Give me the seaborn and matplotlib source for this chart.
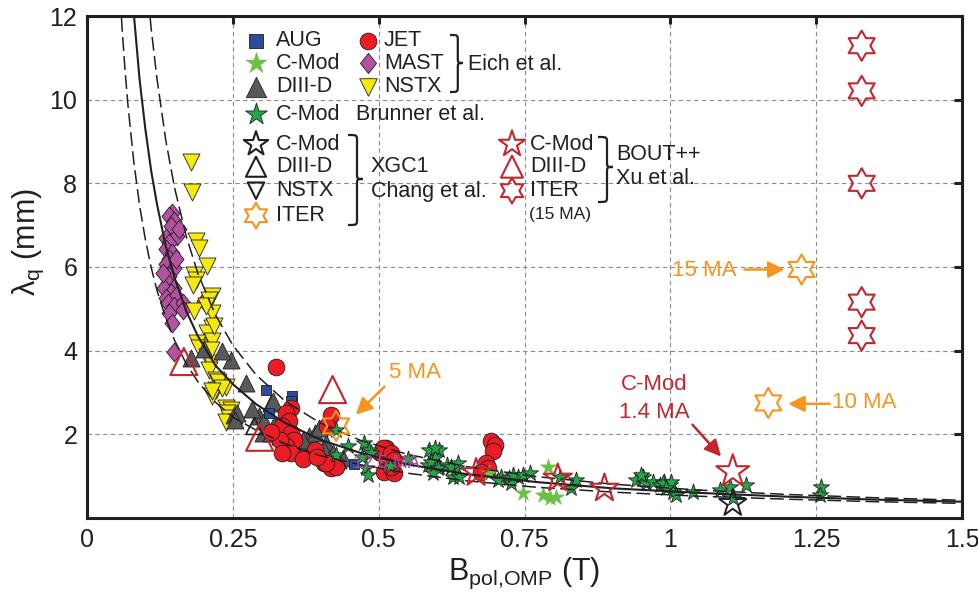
import numpy as np
import pandas as pd
import seaborn as sns
import matplotlib.pyplot as plt
from matplotlib.path import Path
from matplotlib.patches import PathPatch

# ---- scaling curves (B_pol in T, lambda_q in mm)
solid_B = [0.075, 0.08, 0.09, 0.10, 0.11, 0.12, 0.135, 0.15, 0.17, 0.19, 0.22, 0.25,
           0.29, 0.34, 0.40, 0.47, 0.55, 0.65, 0.77, 0.90, 1.05, 1.20, 1.35, 1.50]
solid_L = [13.1, 12.1, 10.5, 9.3, 8.3, 7.5, 6.5, 5.75, 4.95, 4.35, 3.65, 3.2,
           2.72, 2.27, 1.87, 1.55, 1.28, 1.05, 0.86, 0.71, 0.60, 0.51, 0.44, 0.39]
upper_B = [0.10, 0.11, 0.12, 0.135, 0.15, 0.17, 0.19, 0.22, 0.25, 0.29, 0.34, 0.40,
           0.47, 0.55, 0.65, 0.77, 0.90, 1.05, 1.20, 1.35, 1.50]
upper_L = [13.2, 11.7, 10.5, 9.03, 7.9, 6.74, 5.85, 4.86, 4.13, 3.42, 2.79, 2.27,
           1.85, 1.52, 1.23, 0.99, 0.81, 0.667, 0.563, 0.485, 0.424]
lower_B = [0.055, 0.06, 0.065, 0.07, 0.08, 0.09, 0.10, 0.11, 0.12, 0.135, 0.15, 0.17,
           0.19, 0.22, 0.25, 0.29, 0.34, 0.40, 0.47, 0.55, 0.65, 0.77, 0.90, 1.05,
           1.20, 1.35, 1.50]
lower_L = [12.9, 11.74, 10.74, 9.9, 8.54, 7.48, 6.66, 5.99, 5.44, 4.78, 4.25, 3.69,
           3.26, 2.77, 2.41, 2.1, 1.77, 1.49, 1.27, 1.07, 0.89, 0.735, 0.62, 0.52,
           0.45, 0.39, 0.35]

# ---- Eich et al. multi-machine data
mast_B = [0.146, 0.141, 0.149, 0.144, 0.135, 0.155, 0.141, 0.135, 0.146, 0.141, 0.135,
          0.149, 0.141, 0.138, 0.149, 0.132, 0.144, 0.135, 0.152, 0.138, 0.149, 0.164,
          0.141, 0.164, 0.201, 0.146, 0.149, 0.158, 0.152, 0.131]
mast_L = [7.30, 7.22, 7.10, 6.98, 6.70, 6.74, 6.58, 6.42, 6.34, 6.18, 6.06,
          5.98, 5.78, 5.62, 5.50, 5.50, 5.38, 5.26, 5.30, 5.14, 5.06, 5.14,
          4.90, 4.98, 5.18, 4.66, 3.98, 6.90, 6.20, 5.85]

nstx_B = [0.178, 0.180, 0.186, 0.192, 0.205, 0.184, 0.186, 0.181, 0.215, 0.209, 0.184,
          0.215, 0.215, 0.206, 0.215, 0.189, 0.192, 0.206, 0.212, 0.209, 0.221, 0.238,
          0.221, 0.215, 0.238, 0.247, 0.240, 0.244, 0.238, 0.204, 0.218, 0.212, 0.224,
          0.232, 0.215]
nstx_L = [8.50, 7.79, 6.62, 6.46, 6.02, 5.82, 5.70, 5.58, 5.30, 5.22, 4.94,
          4.90, 4.54, 4.42, 4.22, 4.18, 4.06, 3.86, 3.70, 3.54, 3.31, 3.14,
          3.07, 2.91, 2.63, 2.59, 2.51, 2.40, 2.30, 5.06, 4.58, 4.02, 3.26,
          3.11, 3.03]

diii_B = [0.178, 0.201, 0.247, 0.272, 0.252, 0.258, 0.295, 0.315, 0.321, 0.301, 0.315,
          0.330, 0.341, 0.364, 0.372, 0.381, 0.390, 0.404, 0.410, 0.421, 0.438, 0.381,
          0.318, 0.304, 0.332, 0.398, 0.370, 0.430, 0.407, 0.254, 0.232, 0.283]
diii_L = [3.82, 4.04, 3.78, 3.23, 2.47, 2.51, 2.43, 2.75, 2.23, 2.03, 2.03,
          1.95, 1.79, 1.83, 1.63, 1.95, 2.03, 2.19, 1.79, 1.55, 1.43, 1.55,
          2.79, 2.31, 1.99, 2.15, 1.87, 1.39, 1.63, 2.35, 4.00, 2.60]

aug_B = [0.307, 0.352, 0.350, 0.341, 0.332, 0.312, 0.457]
aug_L = [3.07, 2.91, 2.79, 2.31, 2.27, 2.51, 1.30]

jet_B = [0.324, 0.350, 0.341, 0.347, 0.335, 0.350, 0.355, 0.341, 0.350, 0.330, 0.335,
         0.418, 0.412, 0.407, 0.418, 0.390, 0.504, 0.515, 0.510, 0.527, 0.427, 0.410,
         0.513, 0.521, 0.693, 0.699, 0.696, 0.684, 0.687, 0.676, 0.507, 0.521, 0.527,
         0.370, 0.395, 0.315]
jet_L = [3.62, 2.63, 2.51, 2.31, 2.19, 2.03, 1.87, 1.71, 1.55, 1.87, 1.55,
         2.47, 2.19, 1.31, 1.19, 1.63, 1.55, 1.31, 1.11, 1.07, 1.23, 1.31,
         1.67, 1.23, 1.83, 1.75, 1.59, 1.31, 1.19, 1.11, 1.67, 1.55, 1.39,
         1.40, 1.45, 2.05]

cmodE_B = [0.747, 0.781, 0.793, 0.804, 0.790, 0.690]
cmodE_L = [0.59, 0.55, 0.47, 0.51, 1.23, 1.07]

# ---- Brunner et al. C-Mod
brun_B = [0.427, 0.447, 0.427, 0.475, 0.484, 0.472, 0.478, 0.481, 0.587, 0.604, 0.596,
          0.584, 0.604, 0.618, 0.633, 0.627, 0.710, 0.724, 0.739, 0.596, 0.590, 0.601,
          0.593, 0.624, 0.636, 0.638, 0.704, 0.727, 0.730, 0.747, 0.759, 0.810, 0.839,
          0.830, 0.942, 0.953, 0.959, 0.970, 0.982, 0.990, 0.999, 1.005, 0.950, 0.987,
          1.002, 0.993, 1.010, 1.039, 1.085, 1.102, 1.107, 1.130, 1.259, 1.256, 0.550,
          0.520, 0.487]
brun_L = [2.11, 1.71, 1.51, 1.79, 1.63, 1.47, 1.19, 1.03, 1.63, 1.63, 1.43,
          1.27, 1.23, 1.27, 1.19, 0.99, 0.99, 0.95, 0.99, 1.67, 1.35, 1.19,
          1.07, 1.23, 1.31, 0.99, 0.91, 0.83, 1.03, 1.03, 1.07, 0.99, 0.91,
          0.71, 0.91, 0.99, 0.83, 0.87, 0.79, 0.87, 0.79, 0.63, 1.03, 0.83,
          0.87, 0.71, 0.55, 0.63, 0.67, 0.75, 0.47, 0.79, 0.75, 0.55, 1.40,
          1.25, 1.55]

# ---- XGC1 (Chang et al.)
xgc_cmod_B, xgc_cmod_L = [1.107], [0.35]
xgc_d3d_B, xgc_d3d_L = [0.287], [2.20]
xgc_iter_B = [0.427, 1.168, 1.225]
xgc_iter_L = [2.20, 2.75, 5.94]

# ---- BOUT++ (Xu et al.)
bout_cmod_B = [0.667, 0.807, 0.887]
bout_cmod_L = [1.08, 0.95, 0.71]
bout_cmod14_B, bout_cmod14_L = [1.107], [1.11]
bout_d3d_B = [0.166, 0.296, 0.421]
bout_d3d_L = [3.74, 1.93, 3.07]
bout_iter_B = [1.328, 1.328, 1.328, 1.328, 1.328]
bout_iter_L = [11.29, 10.21, 8.00, 5.16, 4.36]

xtick_vals = [0, 0.25, 0.5, 0.75, 1, 1.25, 1.5]
xtick_text = ['0', '0.25', '0.5', '0.75', '1', '1.25', '1.5']
ytick_vals = [2, 4, 6, 8, 10, 12]

# colours
c_aug, c_cmodE, c_d3d = '#2B4C9F', '#6CC04A', '#58595B'
c_jet, c_mast, c_nstx = '#ED1C24', '#B252A1', '#F4EA10'
c_brun, c_orange, c_red = '#25A54A', '#F7941D', '#C1272D'
c_text = '#231F20'

sns.set_style("white")
plt.rcParams['font.family'] = ['Liberation Sans', 'DejaVu Sans']
plt.rcParams['mathtext.fontset'] = 'custom'
plt.rcParams['mathtext.rm'] = 'Liberation Sans'
plt.rcParams['mathtext.it'] = 'Liberation Sans:italic'

W, H = 979, 598
fig = plt.figure(figsize=(W / 100, H / 100), dpi=100)
ax = fig.add_axes([87 / W, 1 - 518 / H, 875 / W, 502 / H])

hexagram = Path.unit_regular_star(6, 0.577)
diamond = [(0, 1), (0.8, 0), (0, -1), (-0.8, 0), (0, 1)]


def pts(xs, ys, **kw):
    df = pd.DataFrame({'B': xs, 'lam': ys})
    sns.scatterplot(data=df, x='B', y='lam', ax=ax, legend=False, **kw)


filled = dict(edgecolor='#231F20', linewidth=0.6)
pts(mast_B, mast_L, marker=diamond, s=185, color=c_mast, **filled)
pts(nstx_B, nstx_L, marker='v', s=150, color=c_nstx, **filled)
pts(diii_B, diii_L, marker='^', s=150, color=c_d3d, **filled)
pts(aug_B, aug_L, marker='s', s=60, color=c_aug, **filled)
pts(jet_B, jet_L, marker='o', s=145, color=c_jet, **filled)
pts(cmodE_B, cmodE_L, marker='*', s=150, color=c_cmodE, edgecolor=c_cmodE, linewidth=0.3)
pts(brun_B, brun_L, marker='*', s=150, color=c_brun, **filled)

# scaling lines
sns.lineplot(x=solid_B, y=solid_L, ax=ax, sort=False, estimator=None,
             color='#231F20', linewidth=1.5, zorder=2)
for bb, ll in [(upper_B, upper_L), (lower_B, lower_L)]:
    sns.lineplot(x=bb, y=ll, ax=ax, sort=False, estimator=None,
                 color='#231F20', linewidth=1.1, linestyle=(0, (9, 3.5)), zorder=2)

opn = dict(facecolor='none', zorder=3)
pts(xgc_cmod_B, xgc_cmod_L, marker='*', s=420, color='#231F20', edgecolor='#231F20',
    linewidth=1.4, **opn)
pts(xgc_d3d_B, xgc_d3d_L, marker='^', s=150, color='#231F20', edgecolor='#231F20',
    linewidth=1.2, **opn)
pts(xgc_iter_B, xgc_iter_L, marker=hexagram, s=470, color=c_orange, edgecolor=c_orange,
    linewidth=1.5, **opn)
pts(bout_cmod_B, bout_cmod_L, marker='*', s=450, color=c_red, edgecolor=c_red,
    linewidth=1.5, **opn)
pts(bout_cmod14_B, bout_cmod14_L, marker='*', s=620, color=c_red, edgecolor=c_red,
    linewidth=1.5, **opn)
pts(bout_d3d_B, bout_d3d_L, marker='^', s=380, color=c_red, edgecolor=c_red,
    linewidth=1.5, **opn)
pts(bout_iter_B, bout_iter_L, marker=hexagram, s=470, color=c_red, edgecolor=c_red,
    linewidth=1.5, **opn)

# axes styling
ax.set_xlim(0, 1.5)
ax.set_ylim(0, 12)
ax.set_xticks(xtick_vals)
ax.set_xticklabels(xtick_text)
ax.set_yticks(ytick_vals)
ax.set_axisbelow(True)
ax.grid(True, color='#8C8C8C', linewidth=0.8, linestyle=(0, (4, 3)))
for sp in ax.spines.values():
    sp.set_linewidth(2.2)
    sp.set_color(c_text)
ax.tick_params(direction='in', length=6, width=2.2, top=True, right=True,
               labelsize=18, colors=c_text, pad=7)
ax.set_xlabel('B$_\\mathrm{pol{,}OMP}$ (T)', fontsize=22, color=c_text, labelpad=3)
ax.set_ylabel('λ$_\\mathrm{q}$ (mm)', fontsize=22, color=c_text)
ax.yaxis.set_label_coords(-0.047, 0.55)

# annotations
arrow_kw = lambda c: dict(arrowstyle='-|>,head_length=0.7,head_width=0.35', color=c,
                          lw=1.8, shrinkA=0, shrinkB=0, mutation_scale=14)
ax.annotate('', xy=(0.461, 2.47), xytext=(0.510, 3.14), arrowprops=arrow_kw(c_orange))
ax.text(0.563, 3.47, '5 MA', color=c_orange, fontsize=16, ha='center', va='center')
ax.annotate('', xy=(1.196, 5.94), xytext=(1.127, 5.94), arrowprops=arrow_kw(c_orange))
ax.text(1.059, 5.92, '15 MA', color=c_orange, fontsize=16, ha='center', va='center')
ax.annotate('', xy=(1.202, 2.73), xytext=(1.273, 2.73), arrowprops=arrow_kw(c_orange))
ax.text(1.333, 2.75, '10 MA', color=c_orange, fontsize=16, ha='center', va='center')
ax.annotate('', xy=(1.087, 1.47), xytext=(1.038, 2.23), arrowprops=arrow_kw(c_red))
ax.text(0.973, 3.19, 'C-Mod', color=c_red, fontsize=16, ha='center', va='center')
ax.text(0.973, 2.53, '1.4 MA', color=c_red, fontsize=16, ha='center', va='center')
ax.text(0.514, 1.31, '12.5 MA', color='#A94AA0', fontsize=13, ha='center', va='center',
        zorder=10)


# hand-made legend, positions in figure pixels
def fp(px, py):
    return px / W, 1 - py / H


def leg_marker(px, py, **kw):
    x, y = fp(px, py)
    ax.scatter([x], [y], transform=fig.transFigure, clip_on=False, zorder=5, **kw)


def leg_text(px, py, s, size=15.5, **kw):
    x, y = fp(px, py)
    fig.text(x, y, s, fontsize=size, color=c_text, ha='left', va='center', **kw)


def brace(x0, yt, yb, ym, w, r=6):
    xb = x0 + 0.6 * w
    v = [(x0, yt), (xb, yt), (xb, yt), (xb, yt + r), (xb, ym - r),
         (xb, ym), (xb, ym), (x0 + w, ym),
         (xb, ym), (xb, ym), (xb, ym + r), (xb, yb - r),
         (xb, yb), (xb, yb), (x0, yb)]
    c = [Path.MOVETO, Path.CURVE4, Path.CURVE4, Path.CURVE4, Path.LINETO,
         Path.CURVE4, Path.CURVE4, Path.CURVE4,
         Path.CURVE4, Path.CURVE4, Path.CURVE4, Path.LINETO,
         Path.CURVE4, Path.CURVE4, Path.CURVE4]
    path = Path([fp(a, b) for a, b in v], c)
    fig.patches.append(PathPatch(path, facecolor='none', edgecolor=c_text, lw=1.6,
                                 transform=fig.transFigure))


rows = [40.7, 63.3, 86.7, 114.3, 144, 166.7, 190.7, 215.7]
mx1, tx1, mx2, tx2, mx3, tx3 = 256, 276, 368, 384, 512, 530
ek = dict(edgecolor='#231F20', linewidths=0.6)
leg_marker(mx1, rows[0], marker='s', s=95, color=c_aug, **ek)
leg_marker(mx1, rows[1], marker='*', s=260, color=c_cmodE, edgecolor=c_cmodE, linewidths=0.3)
leg_marker(mx1, rows[2], marker='^', s=215, color=c_d3d, **ek)
leg_marker(mx2, rows[0], marker='o', s=145, color=c_jet, **ek)
leg_marker(mx2, rows[1], marker=diamond, s=210, color=c_mast, **ek)
leg_marker(mx2, rows[2], marker='v', s=160, color=c_nstx, **ek)
leg_marker(mx1, rows[3], marker='*', s=270, color=c_brun, **ek)
for i, (m, sz) in enumerate([('*', 340), ('^', 210), ('v', 140)]):
    leg_marker(mx1, rows[4 + i], marker=m, s=sz, facecolor='none', edgecolor=c_text,
               linewidths=1.5)
leg_marker(mx1, rows[7], marker=hexagram, s=340, facecolor='none', edgecolor=c_orange,
           linewidths=1.5)
for i, (m, sz) in enumerate([('*', 390), ('^', 250), (hexagram, 340)]):
    leg_marker(mx3, rows[4 + i], marker=m, s=sz, facecolor='none', edgecolor=c_red,
               linewidths=1.5)

for r, s in zip(rows[:3], ['AUG', 'C-Mod', 'DIII-D']):
    leg_text(tx1, r, s)
for r, s in zip(rows[:3], ['JET', 'MAST', 'NSTX']):
    leg_text(tx2, r, s)
leg_text(468, 64, 'Eich et al.')
leg_text(tx1, rows[3], 'C-Mod')
leg_text(356, rows[3], 'Brunner et al.')
for r, s in zip(rows[4:], ['C-Mod', 'DIII-D', 'NSTX', 'ITER']):
    leg_text(tx1, r, s)
leg_text(371, 166.7, 'XGC1')
leg_text(371, 191.7, 'Chang et al.')
for r, s in zip(rows[4:7], ['C-Mod', 'DIII-D', 'ITER']):
    leg_text(tx3, r, s)
leg_text(529, 215, '(15 MA)', size=12.5)
leg_text(616, 155, 'BOUT++')
leg_text(616, 178, 'Xu et al.')

brace(450, 35, 92, 63, 13)
brace(348, 135, 225, 179, 15)
brace(598, 137, 202, 167, 15)

fig.savefig('out.png', dpi=100)
